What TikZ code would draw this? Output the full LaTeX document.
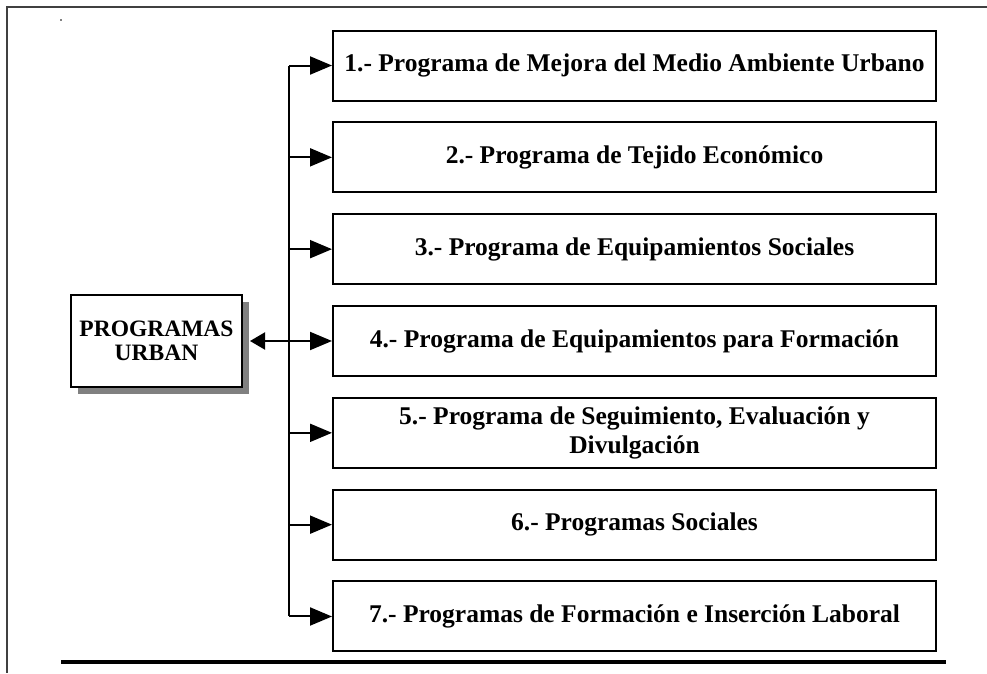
\documentclass[tikz,border=0pt]{standalone}
\usepackage{fontspec}
\setmainfont{Liberation Serif}
\usepackage{tikz}
\usetikzlibrary{arrows.meta}
\usetikzlibrary{shadows}

\begin{document}
\begin{tikzpicture}[x=1pt,y=-1pt]

\tikzset{prog box/.style={draw, line width=2pt, minimum width=603pt,
    minimum height=70pt, align=center, inner sep=0pt,
    font=\fontsize{25.5}{28.5}\selectfont\bfseries},
  main box/.style={draw, line width=2pt, fill=white, minimum width=171pt,
    minimum height=92pt, align=center, inner sep=0pt,
    font=\fontsize{23.5}{24.5}\selectfont\bfseries,
    drop shadow={shadow xshift=7pt, shadow yshift=-7pt, fill=black!50, opacity=1}},
  feed/.style={line width=2pt, -{Triangle[length=22pt,width=18pt]}}
}
\useasboundingbox (0,0) rectangle (987,673);

% page frame
\draw[line width=1.3pt, black!75] (987,7) -- (7,7) -- (7,673);
\fill (61,20) circle (0.8pt);
\draw[line width=4.5pt] (61,662) -- (946,662);

\node[main box] (urban) at (156.5,341) {PROGRAMAS\\URBAN};

\foreach \i/\txt in {1/{1.- Programa de Mejora del Medio Ambiente Urbano},
  2/{2.- Programa de Tejido Económico},
  3/{3.- Programa de Equipamientos Sociales},
  4/{4.- Programa de Equipamientos para Formación},
  5/{5.- Programa de Seguimiento, Evaluación y\\Divulgación},
  6/{6.- Programas Sociales},
  7/{7.- Programas de Formación e Inserción Laboral}}
  \node[prog box] (p\i) at (634.5,{65.5+(\i-1)*91.83}) {\txt};

\coordinate (bus) at (289,0);
\draw[line width=2pt] (p1.west -| bus) -- (p7.west -| bus);
\foreach \i in {1,...,7}
  \draw[feed] (p\i.west -| bus) -- (p\i.west);
\draw[line width=2pt, {Triangle[length=15pt,width=17pt]}-]
  ([xshift=7pt]urban.east) -- (bus |- urban.east);

\end{tikzpicture}
\end{document}
